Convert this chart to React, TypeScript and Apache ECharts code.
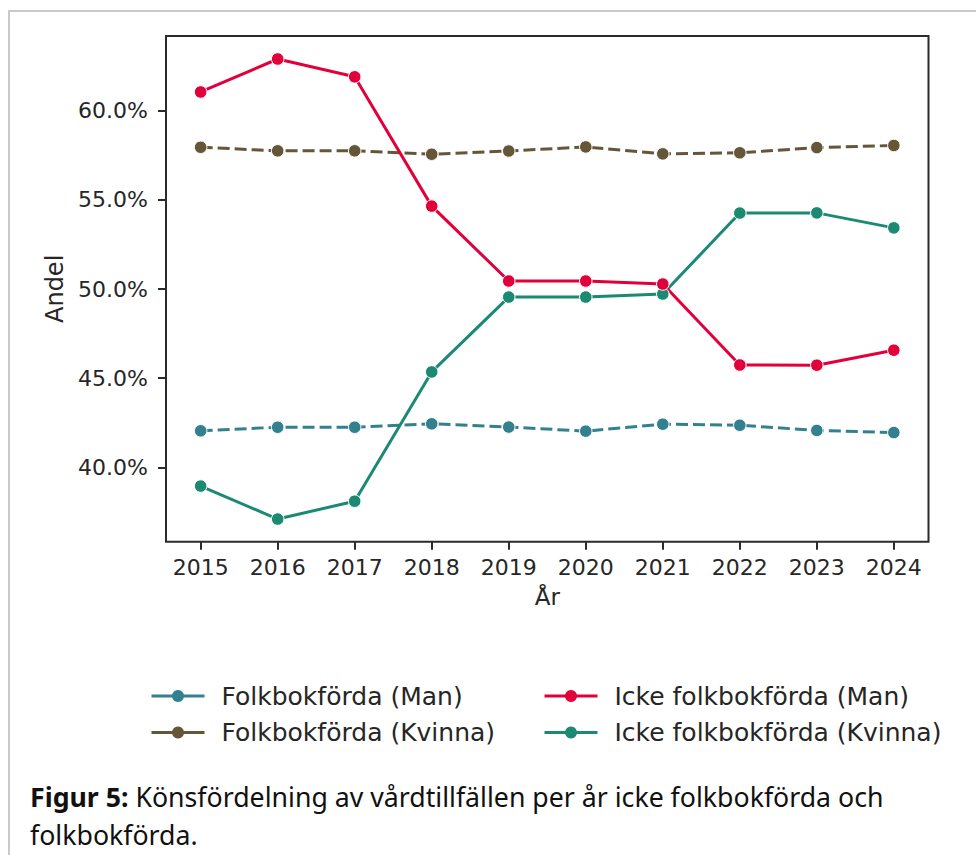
import React, { useEffect, useRef } from "react";
import * as echarts from "echarts";

const years = [2015, 2016, 2017, 2018, 2019, 2020, 2021, 2022, 2023, 2024];
const folkMan = [42.05, 42.25, 42.25, 42.44, 42.26, 42.03, 42.42, 42.36, 42.07, 41.95];
const folkKvinna = [57.95, 57.75, 57.75, 57.56, 57.74, 57.97, 57.58, 57.64, 57.93, 58.05];
const ickeMan = [61.05, 62.9, 61.9, 54.65, 50.45, 50.45, 50.28, 45.74, 45.73, 46.57];
const ickeKvinna = [38.95, 37.1, 38.1, 45.35, 49.55, 49.55, 49.72, 54.26, 54.27, 53.43];
const yTicks = [40, 45, 50, 55, 60];

const names = {
  fm: "Folkbokförda (Man)",
  fk: "Folkbokförda (Kvinna)",
  im: "Icke folkbokförda (Man)",
  ik: "Icke folkbokförda (Kvinna)",
};

const captionLine1 = "{b|Figur 5:} Könsfördelning av vårdtillfällen per år icke folkbokförda och";
const captionLine2 = "folkbokförda.";

const colors = {
  fm: "#33808f",
  fk: "#655638",
  im: "#e2003a",
  ik: "#1c8a73",
};

const FONT = "DejaVu Sans";
const TXT = "#262626";

function makeSeries(name: string, values: number[], color: string, dashed: boolean) {
  return {
    name,
    type: "line",
    data: years.map((y, i) => [y, values[i]]),
    symbol: "circle",
    symbolSize: 12.5,
    lineStyle: { color, width: 3, type: dashed ? [12, 5] : "solid" },
    itemStyle: { color, borderColor: "#ffffff", borderWidth: 1 },
    emphasis: { disabled: true },
  };
}

export default function App() {
  const ref = useRef<HTMLDivElement>(null);
  useEffect(() => {
    if (!ref.current) return;
    const chart = echarts.init(ref.current, null, { renderer: "svg" });
    const legendCommon = {
      orient: "vertical",
      top: 682,
      padding: 0,
      itemWidth: 53,
      itemHeight: 15,
      itemGap: 8.5,
      selectedMode: false,
      lineStyle: { type: "solid", width: 3 },
      itemStyle: { borderWidth: 0 },
      textStyle: {
        fontFamily: FONT,
        fontSize: 25,
        color: TXT,
        lineHeight: 28,
        padding: [0, 0, 0, 12],
      },
    };
    const captionStyle = {
      fontFamily: "Noto Sans",
      fontSize: 26.7,
      lineHeight: 32,
      fill: "#111111",
      rich: {
        b: { fontFamily: "Noto Sans", fontSize: 26.7, fontWeight: "bold", lineHeight: 32, fill: "#111111" },
      },
    };
    chart.setOption({
      animation: false,
      backgroundColor: "#ffffff",
      grid: {
        left: 166,
        top: 36,
        width: 762.5,
        height: 505.7,
        show: true,
        borderColor: "#2b2b2b",
        borderWidth: 2,
        backgroundColor: "transparent",
      },
      xAxis: {
        type: "value",
        min: 2014.55,
        max: 2024.45,
        name: "År",
        nameLocation: "middle",
        nameGap: 44,
        nameTextStyle: { fontFamily: FONT, fontSize: 23, color: TXT },
        axisLine: { show: false },
        splitLine: { show: false },
        axisTick: {
          show: true,
          customValues: years,
          length: 8,
          lineStyle: { color: "#2b2b2b", width: 2 },
        },
        axisLabel: {
          customValues: years,
          margin: 15,
          fontFamily: FONT,
          fontSize: 22,
          color: TXT,
          formatter: (v: number) => String(v),
        },
      },
      yAxis: {
        type: "value",
        min: 35.83,
        max: 64.19,
        name: "Andel",
        nameLocation: "middle",
        nameGap: 97,
        nameRotate: 90,
        nameTextStyle: { fontFamily: FONT, fontSize: 24, color: TXT },
        axisLine: { show: false },
        splitLine: { show: false },
        axisTick: {
          show: true,
          customValues: yTicks,
          length: 8,
          lineStyle: { color: "#2b2b2b", width: 2 },
        },
        axisLabel: {
          customValues: yTicks,
          margin: 18,
          fontFamily: FONT,
          fontSize: 22,
          color: TXT,
          formatter: (v: number) => v.toFixed(1) + "%",
        },
      },
      legend: [
        { ...legendCommon, left: 150, data: [names.fm, names.fk] },
        { ...legendCommon, left: 543, data: [names.im, names.ik] },
      ],
      series: [
        makeSeries(names.fm, folkMan, colors.fm, true),
        makeSeries(names.fk, folkKvinna, colors.fk, true),
        makeSeries(names.ik, ickeKvinna, colors.ik, false),
        makeSeries(names.im, ickeMan, colors.im, false),
      ],
      graphic: [
        {
          type: "rect",
          shape: { x: 9, y: 11, width: 1200, height: 1200 },
          style: { fill: "none", stroke: "#c9c9c9", lineWidth: 2 },
          silent: true,
        },
        {
          type: "text",
          left: 30,
          top: 780,
          style: { ...captionStyle, text: captionLine1 },
          silent: true,
        },
        {
          type: "text",
          left: 30,
          top: 818,
          style: { ...captionStyle, text: captionLine2 },
          silent: true,
        },
      ],
    });
    return () => chart.dispose();
  }, []);
  return (
    <div
      ref={ref}
      style={{ position: "absolute", left: 0, top: 0, width: 976, height: 855, background: "#fff" }}
    />
  );
}
